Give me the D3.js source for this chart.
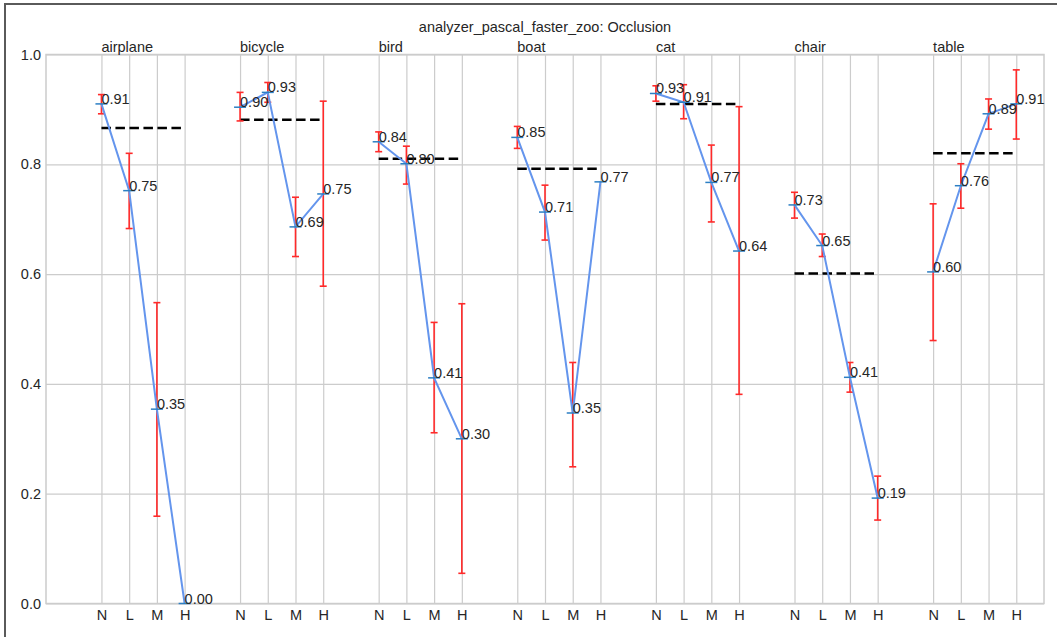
<!DOCTYPE html>
<html>
<head>
<meta charset="utf-8">
<script src="https://cdn.jsdelivr.net/npm/d3@7"></script>
<style>
  body { margin: 0; background: #fff; }
  svg text { font-family: "Liberation Sans", Arial, sans-serif; fill: #262626; }
</style>
</head>
<body>
<div id="chart"></div>
<script>
// Values, one entry per category, levels N/L/M/H
const categories = ["airplane", "bicycle", "bird", "boat", "cat", "chair", "table"];
const levels = ["N", "L", "M", "H"];
const values = [
  [0.910, 0.752, 0.354, 0.000],
  [0.904, 0.931, 0.686, 0.746],
  [0.841, 0.801, 0.411, 0.300],
  [0.849, 0.713, 0.347, 0.768],
  [0.929, 0.913, 0.767, 0.642],
  [0.726, 0.652, 0.412, 0.192],
  [0.604, 0.761, 0.892, 0.910],
];
// lower / upper ends of the red error bars (null = no bar)
const errLow = [
  [0.892, 0.683, 0.159, null],
  [0.879, 0.913, 0.632, 0.578],
  [0.823, 0.764, 0.311, 0.055],
  [0.829, 0.662, 0.249, null],
  [0.915, 0.883, 0.695, 0.381],
  [0.702, 0.632, 0.385, 0.152],
  [0.479, 0.720, 0.864, 0.846],
];
const errHigh = [
  [0.927, 0.820, 0.548, null],
  [0.931, 0.949, 0.740, 0.915],
  [0.859, 0.833, 0.512, 0.546],
  [0.869, 0.762, 0.439, null],
  [0.943, 0.945, 0.835, 0.905],
  [0.749, 0.673, 0.439, 0.232],
  [0.728, 0.801, 0.919, 0.972],
];
// dashed black line: overall average per category
const overall = [0.866, 0.881, 0.810, 0.792, 0.910, 0.601, 0.820];
const yTicks = [0, 0.2, 0.4, 0.6, 0.8, 1.0];
const title = "analyzer_pascal_faster_zoo: Occlusion";

const config = {
  width: 1057,
  height: 637,
  margin: { top: 54.5, left: 46, right: 13, bottom: 33.5 },
  fontSize: "14.5px",
};
const innerW = config.width - config.margin.left - config.margin.right;
const innerH = config.height - config.margin.top - config.margin.bottom;

const svg = d3.select("#chart")
  .append("svg")
  .attr("width", config.width)
  .attr("height", config.height);

// figure frame (only top and left edges fall inside the picture)
svg.append("rect")
  .attr("x", 5).attr("y", 4)
  .attr("width", 1100).attr("height", 700)
  .attr("fill", "none")
  .attr("stroke", "#5a5a5a")
  .attr("stroke-width", 2);

const g = svg.append("g")
  .attr("transform", `translate(${config.margin.left},${config.margin.top})`);

// slot index: 5 slots per category (4 levels + a gap)
const slot = (ci, li) => ci * 5 + li;
const x = d3.scaleLinear().domain([-2, 34]).range([0, innerW]);
const y = d3.scaleLinear().domain([0, 1]).range([innerH, 0]);

const xTickVals = [];
categories.forEach((c, ci) => levels.forEach((l, li) => xTickVals.push(slot(ci, li))));

// grid + axes
const yAxis = g.append("g")
  .call(d3.axisLeft(y).tickValues(yTicks).tickFormat(d3.format(".1f"))
    .tickSize(-innerW).tickPadding(5));
yAxis.select(".domain").remove();
yAxis.selectAll("line").attr("stroke", "#cccccc").attr("stroke-width", 1.2);
yAxis.selectAll("text").style("font-size", config.fontSize).attr("fill", "#262626");

const xAxis = g.append("g")
  .attr("transform", `translate(0,${innerH})`)
  .call(d3.axisBottom(x).tickValues(xTickVals)
    .tickFormat((d) => levels[d % 5])
    .tickSize(-innerH).tickPadding(6));
xAxis.select(".domain").remove();
xAxis.selectAll("line").attr("stroke", "#cccccc").attr("stroke-width", 1.2);
xAxis.selectAll("text").style("font-size", config.fontSize).attr("fill", "#262626");

// plot border
g.append("rect")
  .attr("width", innerW).attr("height", innerH)
  .attr("fill", "none")
  .attr("stroke", "#cccccc")
  .attr("stroke-width", 1.5);

// title and category labels
svg.append("text")
  .attr("x", config.margin.left + innerW / 2)
  .attr("y", 32)
  .attr("text-anchor", "middle")
  .style("font-size", config.fontSize)
  .text(title);

g.selectAll("text.cat")
  .data(categories)
  .join("text")
  .attr("class", "cat")
  .attr("x", (d, i) => x(slot(i, 0)))
  .attr("y", -3)
  .style("font-size", config.fontSize)
  .text((d) => d);

// flatten for marks
const points = [];
categories.forEach((c, ci) => levels.forEach((l, li) => {
  points.push({
    ci, li,
    v: values[ci][li],
    lo: errLow[ci][li],
    hi: errHigh[ci][li],
  });
}));

// dashed overall lines
g.selectAll("line.overall")
  .data(overall)
  .join("line")
  .attr("class", "overall")
  .attr("x1", (d, i) => x(slot(i, 0)))
  .attr("x2", (d, i) => x(slot(i, 3)))
  .attr("y1", (d) => y(d))
  .attr("y2", (d) => y(d))
  .attr("stroke", "#000")
  .attr("stroke-width", 2.5)
  .attr("stroke-dasharray", "9.5,4.5");

// error bars
const errs = points.filter((d) => d.lo !== null);
g.selectAll("line.err")
  .data(errs)
  .join("line")
  .attr("class", "err")
  .attr("x1", (d) => x(slot(d.ci, d.li)))
  .attr("x2", (d) => x(slot(d.ci, d.li)))
  .attr("y1", (d) => y(d.lo))
  .attr("y2", (d) => y(d.hi))
  .attr("stroke", "#ff2a2a")
  .attr("stroke-width", 1.6);
["lo", "hi"].forEach((k) => {
  g.selectAll(`line.cap-${k}`)
    .data(errs)
    .join("line")
    .attr("class", `cap-${k}`)
    .attr("x1", (d) => x(slot(d.ci, d.li)) - 3.5)
    .attr("x2", (d) => x(slot(d.ci, d.li)) + 3.5)
    .attr("y1", (d) => y(d[k]))
    .attr("y2", (d) => y(d[k]))
    .attr("stroke", "#ff2a2a")
    .attr("stroke-width", 1.6);
});

// blue connecting lines per category
const line = d3.line()
  .x((d) => x(slot(d.ci, d.li)))
  .y((d) => y(d.v));
g.selectAll("path.series")
  .data(categories.map((c, ci) => points.filter((p) => p.ci === ci)))
  .join("path")
  .attr("class", "series")
  .attr("d", line)
  .attr("fill", "none")
  .attr("stroke", "#6495ed")
  .attr("stroke-width", 2);

// "_" markers
g.selectAll("line.marker")
  .data(points)
  .join("line")
  .attr("class", "marker")
  .attr("x1", (d) => x(slot(d.ci, d.li)) - 6)
  .attr("x2", (d) => x(slot(d.ci, d.li)) + 6)
  .attr("y1", (d) => y(d.v))
  .attr("y2", (d) => y(d.v))
  .attr("stroke", "#2c7fc4")
  .attr("stroke-width", 1.5);

// value labels
g.selectAll("text.val")
  .data(points)
  .join("text")
  .attr("class", "val")
  .attr("x", (d) => x(slot(d.ci, d.li)))
  .attr("y", (d) => y(d.v))
  .style("font-size", config.fontSize)
  .text((d) => d.v.toFixed(2));
</script>
</body>
</html>
